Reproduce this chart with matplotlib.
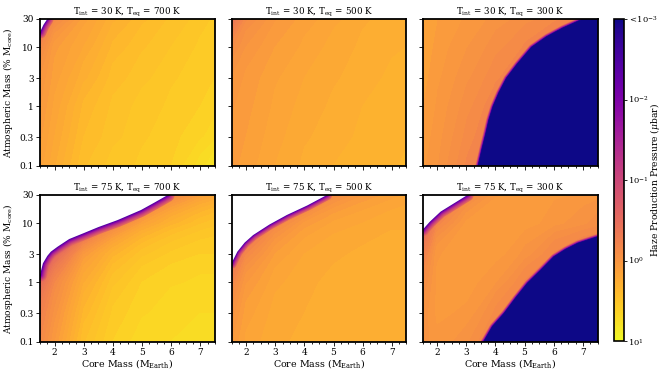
import numpy as np
import matplotlib
matplotlib.use('Agg')
import matplotlib.pyplot as plt
from matplotlib.colors import Normalize, LogNorm
from matplotlib.cm import ScalarMappable
import matplotlib.ticker as mticker

plt.rcParams['font.family'] = ['DejaVu Serif']
plt.rcParams['mathtext.fontset'] = 'dejavuserif'

# ---------------- data ----------------
core_mass = [1.5, 2, 3, 4, 5, 6, 7, 7.5]          # M_Earth (grid columns)
atm_mass = [0.1, 0.3, 1, 3, 10, 30]               # % M_core (grid rows)
t_int = [30, 30, 30, 75, 75, 75]
t_eq = [700, 500, 300, 700, 500, 300]

# log10 haze production pressure (microbar), rows follow atm_mass
logp_30_700 = [[0.12, 0.24, 0.44, 0.52, 0.56, 0.60, 0.72, 0.80],
               [0.08, 0.20, 0.40, 0.48, 0.54, 0.58, 0.64, 0.68],
               [0.04, 0.16, 0.36, 0.46, 0.52, 0.56, 0.60, 0.62],
               [0.00, 0.12, 0.28, 0.42, 0.48, 0.54, 0.58, 0.60],
               [-0.16, 0.08, 0.20, 0.36, 0.44, 0.50, 0.56, 0.58],
               [-1.40, -0.16, 0.12, 0.28, 0.38, 0.46, 0.52, 0.56]]
logp_30_500 = [[0.08, 0.12, 0.20, 0.26, 0.30, 0.32, 0.34, 0.36],
               [0.06, 0.10, 0.18, 0.24, 0.28, 0.31, 0.33, 0.34],
               [0.04, 0.08, 0.16, 0.22, 0.26, 0.30, 0.32, 0.33],
               [0.00, 0.06, 0.14, 0.20, 0.24, 0.28, 0.31, 0.32],
               [-0.12, 0.00, 0.10, 0.16, 0.22, 0.26, 0.29, 0.30],
               [-0.44, -0.12, 0.04, 0.12, 0.18, 0.24, 0.27, 0.29]]
logp_30_300 = [[0.06, 0.00, -0.16, -0.24, -0.24, -0.24, -0.24, -0.24],
               [0.08, 0.02, -0.12, -0.24, -0.24, -0.24, -0.24, -0.24],
               [0.10, 0.04, -0.08, -0.20, -0.24, -0.24, -0.24, -0.24],
               [0.12, 0.06, -0.04, -0.14, -0.24, -0.24, -0.24, -0.24],
               [0.14, 0.08, 0.00, -0.08, -0.16, -0.24, -0.24, -0.24],
               [0.16, 0.10, 0.04, -0.02, -0.08, -0.14, -0.20, -0.24]]
logp_75_700 = [[-0.16, 0.04, 0.44, 0.60, 0.68, 0.70, 0.72, 0.72],
               [-0.24, -0.04, 0.36, 0.56, 0.64, 0.68, 0.70, 0.70],
               [-0.52, -0.16, 0.24, 0.48, 0.60, 0.64, 0.66, 0.66],
               [-1.20, -0.60, 0.04, 0.32, 0.48, 0.56, 0.60, 0.60],
               [-1.40, -1.40, -1.00, -0.28, 0.12, 0.32, 0.44, 0.48],
               [-1.40, -1.40, -1.40, -1.40, -1.00, -0.20, 0.08, 0.16]]
logp_75_500 = [[0.04, 0.16, 0.24, 0.26, 0.28, 0.28, 0.28, 0.28],
               [-0.04, 0.12, 0.22, 0.25, 0.27, 0.28, 0.28, 0.28],
               [-0.20, 0.04, 0.18, 0.24, 0.26, 0.27, 0.28, 0.28],
               [-0.60, -0.16, 0.10, 0.20, 0.24, 0.26, 0.27, 0.27],
               [-1.00, -0.80, -0.20, 0.06, 0.16, 0.20, 0.24, 0.24],
               [-1.00, -1.00, -1.00, -0.60, -0.12, 0.04, 0.12, 0.16]]
logp_75_300 = [[-0.04, 0.04, -0.04, -0.20, -0.24, -0.24, -0.24, -0.24],
               [-0.04, 0.06, 0.04, -0.12, -0.24, -0.24, -0.24, -0.24],
               [-0.12, 0.06, 0.08, 0.00, -0.16, -0.24, -0.24, -0.24],
               [-0.28, 0.04, 0.10, 0.08, -0.02, -0.16, -0.24, -0.24],
               [-0.80, -0.20, 0.06, 0.10, 0.08, 0.02, -0.04, -0.08],
               [-1.00, -1.00, -0.20, 0.04, 0.08, 0.06, 0.04, 0.02]]
fields = [logp_30_700, logp_30_500, logp_30_300, logp_75_700, logp_75_500, logp_75_300]

# boundary of the "no solution" (blank) region: (core mass, atm mass %)
blank_core = [[1.5, 1.62, 1.75], None, None,
              [1.5, 1.6, 1.75, 1.87, 2.1, 2.5, 3.0, 3.5, 4.16, 4.96, 5.4, 5.88],
              [1.5, 1.7, 1.95, 2.24, 2.8, 3.4, 4.1, 4.77],
              [1.5, 1.75, 2.12, 2.6, 3.04]]
blank_atm = [[18, 24, 30], None, None,
             [1.34, 2.1, 2.8, 3.3, 4.0, 5.4, 6.8, 8.6, 11.3, 16.7, 22, 30],
             [2.1, 3.3, 4.7, 6.3, 9.5, 13.8, 20, 30],
             [7.7, 10.6, 15.7, 22, 30]]
# boundary of the < 1e-3 microbar region
dark_core = [None, None,
             [3.41, 3.55, 3.66, 3.78, 3.92, 4.12, 4.38, 4.75, 5.24, 5.75, 6.3, 7.0],
             None, None,
             [3.6, 3.9, 4.3, 4.7, 5.1, 5.55, 6.0, 6.4, 6.83, 7.5]]
dark_atm = [None, None,
            [0.1, 0.2, 0.33, 0.6, 1, 1.7, 3, 5.2, 10, 15, 21, 30],
            None, None,
            [0.1, 0.18, 0.3, 0.55, 0.97, 1.6, 2.7, 3.6, 4.6, 5.9]]
blank_band = [9.0, None, None, 10.0, 7.5, 9.0]   # stroke width of fading edge (pt)

cbar_ticks = [1e-3, 1e-2, 1e-1, 1e0, 1e1]
cbar_labels = [r'$<\!10^{-3}$', r'$10^{-2}$', r'$10^{-1}$', r'$10^{0}$', r'$10^{1}$']
x_ticks = [2, 3, 4, 5, 6, 7]
y_ticks = [0.1, 0.3, 1, 3, 10, 30]
y_ticklabels = ['0.1', '0.3', '1', '3', '10', '30']

# ---------------- plot ----------------
W, H = 664, 380
fig = plt.figure(figsize=(W / 100, H / 100), dpi=100)
cmap = plt.get_cmap('plasma')
norm = Normalize(-3, 1)
levels = np.linspace(-3, 1, 81)

lefts = [40, 231.5, 422.5]
tops = [19, 195]
aw, ah = 175, 146.5
X0, X1, Y0, Y1 = 1.5, 7.5, 0.1, 30


def faded_outline(ax, px, py, width, top_t, n=14, gamma=0.7):
    """Stroke a closed outline with nested lines fading from dark to top_t."""
    cx = list(px) + [px[0]]
    cy = list(py) + [py[0]]
    for k in range(n):
        f = 1 - k / n
        ax.plot(cx, cy, color=cmap(top_t * f ** gamma), lw=width * f,
                solid_joinstyle='round', solid_capstyle='round', zorder=3)


X, Y = np.meshgrid(core_mass, atm_mass)
for i in range(6):
    r, c = divmod(i, 3)
    ax = fig.add_axes([lefts[c] / W, 1 - (tops[r] + ah) / H, aw / W, ah / H])
    ax.set_yscale('log')
    ax.contourf(X, Y, np.array(fields[i]), levels=levels, cmap=cmap, norm=norm,
                extend='both')

    if dark_core[i] is not None:
        dc, da = list(dark_core[i]), list(dark_atm[i])
        if dc[-1] < X1:
            px, py = dc + [X1, X1], da + [Y1, Y0]
        else:
            px, py = dc + [X1], da + [Y0]
        faded_outline(ax, px, py, 4.0, 0.66, n=10, gamma=0.8)
        ax.fill(px, py, color=cmap(0.0), lw=0.4, ec=cmap(0.0), zorder=4)

    if blank_core[i] is not None:
        px = list(blank_core[i]) + [X0]
        py = list(blank_atm[i]) + [Y1]
        faded_outline(ax, px, py, blank_band[i], 0.62, n=16, gamma=0.6)
        ax.fill(px, py, color='white', lw=0, zorder=4)

    ax.set_xlim(X0, X1)
    ax.set_ylim(Y0, Y1)
    ax.set_xticks(x_ticks)
    ax.xaxis.set_minor_locator(mticker.MultipleLocator(0.25))
    ax.set_yticks(y_ticks)
    ax.yaxis.set_minor_locator(mticker.NullLocator())
    ax.tick_params(which='both', direction='out', labelsize=6.5, pad=1.5,
                   width=0.6)
    ax.tick_params(which='major', length=3)
    ax.tick_params(which='minor', length=1.6)
    for s in ax.spines.values():
        s.set_linewidth(1.3)
        s.set_zorder(6)
    if c == 0:
        ax.set_yticklabels(y_ticklabels)
        ax.set_ylabel(r'Atmospheric Mass (% M$_{\mathrm{core}}$)', fontsize=6.5,
                      labelpad=3)
    else:
        ax.set_yticklabels([])
    if r == 1:
        ax.set_xlabel(r'Core Mass (M$_{\mathrm{Earth}}$)', fontsize=6.8, labelpad=0.5)
    else:
        ax.set_xticklabels([])
    ax.set_title(r'T$_{\mathrm{int}}$ = %d K, T$_{\mathrm{eq}}$ = %d K' % (t_int[i], t_eq[i]),
                 fontsize=6.3, pad=3)

cax = fig.add_axes([614 / W, 1 - 341 / H, 10 / W, 322 / H])
sm = ScalarMappable(norm=LogNorm(1e-3, 1e1), cmap=cmap)
cb = fig.colorbar(sm, cax=cax)
cax.invert_yaxis()
cb.set_ticks(cbar_ticks)
cb.set_ticklabels(cbar_labels)
cax.yaxis.set_minor_locator(mticker.NullLocator())
cax.tick_params(labelsize=6, length=2, width=0.6, pad=1)
cb.outline.set_linewidth(1.2)
fig.text(655 / W, 1 - 180 / H, r'Haze Production Pressure ($\mu$bar)', fontsize=6.6,
         rotation=90, ha='center', va='center')

fig.savefig('out.png', dpi=100)
